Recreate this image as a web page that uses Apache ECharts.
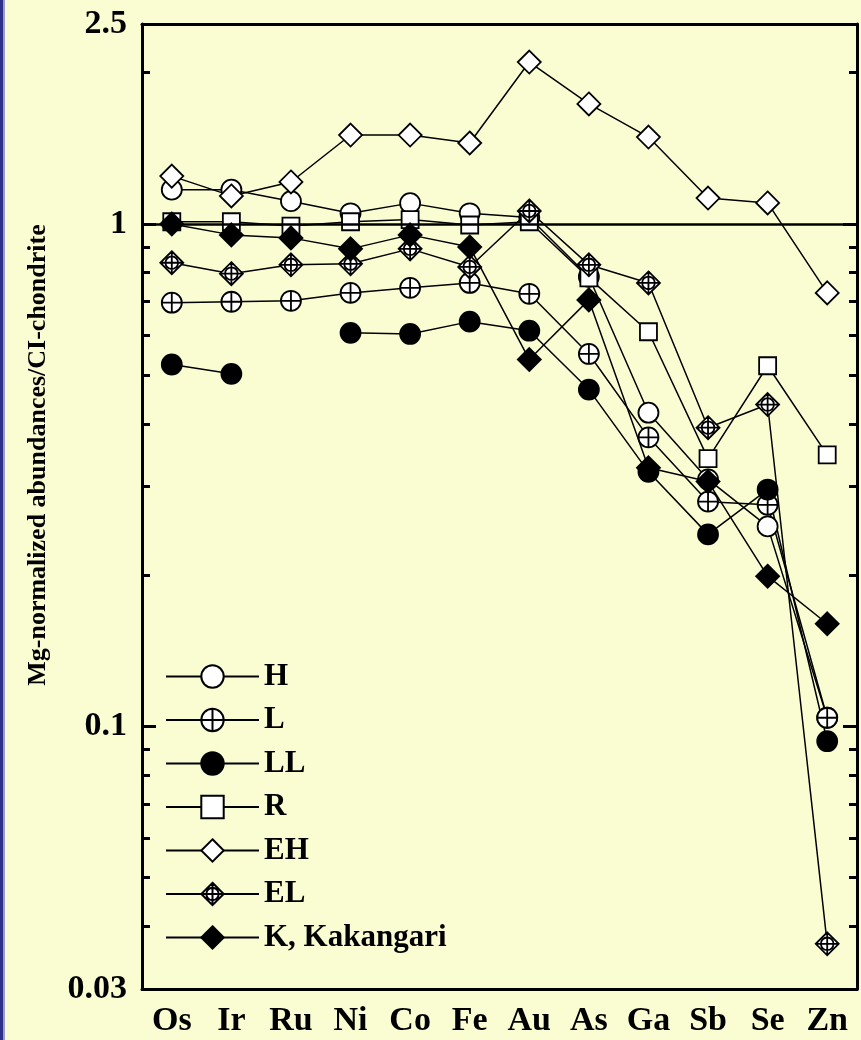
<!DOCTYPE html>
<html>
<head>
<meta charset="utf-8">
<script src="https://cdn.jsdelivr.net/npm/echarts@6/dist/echarts.min.js"></script>
<style>
  html, body { margin: 0; padding: 0; background: #FAFCD2; }
  #chart { width: 861px; height: 1040px; }
</style>
</head>
<body>
<div id="chart"></div>
<script>
// elements along the x axis
var elements = ['Os', 'Ir', 'Ru', 'Ni', 'Co', 'Fe', 'Au', 'As', 'Ga', 'Sb', 'Se', 'Zn'];

// Mg-normalized abundances / CI chondrite
var H   = [1.17, 1.17, 1.11, 1.05, 1.10, 1.05, 1.03, 0.785, 0.421, 0.31, 0.250, 0.104];
var L   = [0.697, 0.700, 0.703, 0.729, 0.746, 0.763, 0.726, 0.551, 0.376, 0.280, 0.276, 0.104];
var LL  = [0.525, 0.503, null, 0.607, 0.604, 0.639, 0.613, 0.468, 0.321, 0.241, 0.296, 0.0934];
var R   = [1.01, 1.01, 0.99, 1.01, 1.02, 0.995, 1.01, 0.781, 0.610, 0.341, 0.522, 0.347];
var EH  = [1.245, 1.137, 1.212, 1.503, 1.503, 1.449, 2.10, 1.733, 1.489, 1.126, 1.101, 0.729];
var EL  = [0.837, 0.796, 0.829, 0.833, 0.892, 0.821, 1.061, 0.829, 0.763, 0.393, 0.437, 0.0369];
var K   = [1.0, 0.951, 0.938, 0.892, 0.951, 0.900, 0.537, 0.706, 0.327, 0.307, 0.199, 0.160];

var seriesNames = ['H', 'L', 'LL', 'R', 'EH', 'EL', 'K, Kakangari'];

// y axis labels and ticks
var yLabels = [0.03, 0.1, 1, 2.5];
var yMajorTicks = [0.03, 0.1, 1];
var yMinorTicks = [0.04, 0.05, 0.06, 0.07, 0.08, 0.09, 0.2, 0.3, 0.4, 0.5, 0.6, 0.7, 0.8, 0.9, 2];

var FONT = "'Liberation Serif', 'Times New Roman', serif";

var circlePlus = 'path://M0,-10A10,10,0,1,1,0,10A10,10,0,1,1,0,-10ZM0,-10L0,10M-10,0L10,0';
var diamondPlus = 'path://M0,-10L10,0L0,10L-10,0ZM0,-10L0,10M-10,0L10,0M5.5,0A5.5,5.5,0,1,1,-5.5,0A5.5,5.5,0,1,1,5.5,0Z';

function line(name, data, symbol, size, fill) {
  return {
    name: name,
    type: 'line',
    data: data,
    symbol: symbol,
    symbolSize: size,
    connectNulls: false,
    lineStyle: { color: '#000', width: 1.5 },
    itemStyle: { color: fill, borderColor: '#000', borderWidth: 1.8 },
    emphasis: { disabled: true },
    animation: false
  };
}

var series = [
  line(seriesNames[0], H, 'circle', 20, '#fff'),
  line(seriesNames[1], L, circlePlus, 20, '#fff'),
  line(seriesNames[2], LL, 'circle', 20, '#000'),
  line(seriesNames[3], R, 'rect', 17, '#fff'),
  line(seriesNames[4], EH, 'diamond', 23, '#fff'),
  line(seriesNames[5], EL, diamondPlus, 23, '#fff'),
  line(seriesNames[6], K, 'diamond', 23, '#000')
];
series[0].markLine = {
  silent: true,
  symbol: ['none', 'none'],
  label: { show: false },
  lineStyle: { color: '#000', width: 2.5, type: 'solid' },
  data: [{ yAxis: 1 }]
};

function yAxis(pos, ticks, len, showLine, showLabel) {
  return {
    type: 'log',
    position: pos,
    min: 0.03,
    max: 2.5,
    logBase: 10,
    splitLine: { show: false },
    axisLine: { show: showLine, lineStyle: { color: '#000', width: 3 } },
    axisTick: { show: true, inside: true, length: len, customValues: ticks, lineStyle: { color: '#000', width: 3 } },
    axisLabel: {
      show: showLabel,
      customValues: yLabels,
      showMinLabel: true,
      showMaxLabel: true,
      margin: 15,
      color: '#000',
      fontFamily: FONT,
      fontWeight: 'bold',
      fontSize: 34
    }
  };
}

var chart = echarts.init(document.getElementById('chart'));
chart.setOption({
  backgroundColor: '#FAFCD2',
  animation: false,
  grid: { left: 142, right: 4, top: 24, bottom: 51 },
  xAxis: [{
    type: 'category',
    data: elements,
    position: 'bottom',
    axisLine: { lineStyle: { color: '#000', width: 3 } },
    axisTick: { inside: true, alignWithLabel: true, length: 13, lineStyle: { color: '#000', width: 3 } },
    axisLabel: { margin: 15, color: '#000', fontFamily: FONT, fontWeight: 'bold', fontSize: 34, interval: 0 }
  }, {
    type: 'category',
    data: elements,
    position: 'top',
    axisLine: { lineStyle: { color: '#000', width: 3 } },
    axisTick: { inside: true, alignWithLabel: true, length: 13, lineStyle: { color: '#000', width: 3 } },
    axisLabel: { show: false }
  }],
  yAxis: [
    yAxis('left', yMajorTicks, 14, true, true),
    yAxis('left', yMinorTicks, 8, false, false),
    yAxis('right', yMajorTicks, 14, true, false),
    yAxis('right', yMinorTicks, 8, false, false)
  ],
  legend: {
    orient: 'vertical',
    left: 165,
    top: 661,
    padding: 0,
    itemWidth: 93,
    itemHeight: 28,
    itemGap: 12.5,
    selectedMode: false,
    data: seriesNames,
    textStyle: { color: '#000', fontFamily: FONT, fontWeight: 'bold', fontSize: 31, lineHeight: 30 }
  },
  graphic: [
    { type: 'rect', shape: { x: 0, y: 0, width: 3, height: 1040 }, style: { fill: '#2E3187' } },
    { type: 'rect', shape: { x: 3, y: 0, width: 2, height: 1040 }, style: { fill: '#9A9CC8' } },
    {
      type: 'text',
      x: 38,
      y: 455,
      rotation: Math.PI / 2,
      style: {
        text: 'Mg-normalized abundances/CI-chondrite',
        fill: '#000',
        font: 'bold 26px ' + FONT,
        textAlign: 'center',
        textVerticalAlign: 'middle'
      }
    }
  ],
  series: series
});
</script>
</body>
</html>
